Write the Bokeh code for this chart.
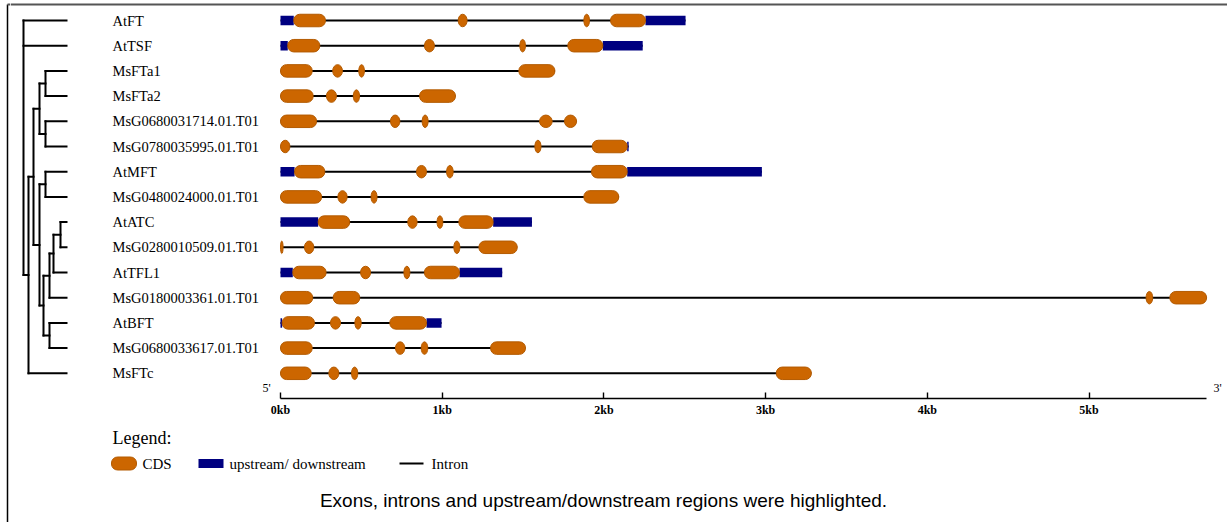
from bokeh.plotting import figure
from bokeh.models import Range1d, FixedTicker
from bokeh.layouts import column, row
from bokeh.core.properties import value
from bokeh.embed import file_html
from bokeh.resources import INLINE

# ---------------- data ----------------
genes = ["AtFT", "AtTSF", "MsFTa1", "MsFTa2", "MsG0680031714.01.T01",
         "MsG0780035995.01.T01", "AtMFT", "MsG0480024000.01.T01", "AtATC",
         "MsG0280010509.01.T01", "AtTFL1", "MsG0180003361.01.T01", "AtBFT",
         "MsG0680033617.01.T01", "MsFTc"]

# CDS exons (bp start, bp end) per gene
cds_regions = [
    [(82, 278), (1099, 1154), (1876, 1911), (2041, 2257)],
    [(45, 243), (890, 952), (1480, 1515), (1777, 1993)],
    [(0, 196), (323, 383), (484, 519), (1474, 1697)],
    [(0, 202), (284, 346), (450, 489), (860, 1082)],
    [(0, 223), (680, 738), (876, 913), (1602, 1680), (1756, 1831)],
    [(0, 58), (1573, 1611), (1928, 2144)],
    [(87, 274), (841, 903), (1027, 1068), (1923, 2144)],
    [(0, 254), (355, 412), (560, 597), (1876, 2092)],
    [(233, 428), (787, 845), (968, 1004), (1103, 1315)],
    [(0, 16), (148, 206), (1072, 1109), (1227, 1464)],
    [(76, 282), (495, 557), (763, 800), (890, 1107)],
    [(0, 199), (326, 490), (5353, 5394), (5500, 5727)],
    [(10, 210), (309, 371), (460, 499), (676, 903)],
    [(0, 196), (711, 769), (870, 911), (1299, 1515)],
    [(0, 190), (299, 361), (439, 478), (3066, 3283)],
]
# upstream / downstream regions per gene
utr_regions = [
    [(0, 82), (2257, 2505)],
    [(0, 45), (1993, 2240)],
    [], [], [],
    [(2144, 2153)],
    [(0, 87), (2144, 2977)],
    [],
    [(0, 233), (1315, 1555)],
    [],
    [(0, 76), (1107, 1371)],
    [],
    [(0, 10), (903, 996)],
    [], [],
]

tick_values = [0, 1000, 2000, 3000, 4000, 5000]
tick_labels = ["0kb", "1kb", "2kb", "3kb", "4kb", "5kb"]

# dendrogram topology (name, branch depth, children)
tree = ("root", 23, ["AtFT", "AtTSF",
        ("n1", 28, [
            ("n2", 33, [
                ("n3", 39, [("A", 45, ["MsFTa1", "MsFTa2"]),
                            ("B", 45, ["MsG0680031714.01.T01", "MsG0780035995.01.T01"])]),
                ("n4", 39, [("C", 45, ["AtMFT", "MsG0480024000.01.T01"]),
                            ("n5", 43, [
                                ("D", 49, [("D1", 53, [("D2", 60, ["AtATC", "MsG0280010509.01.T01"]),
                                                       "AtTFL1"]),
                                           "MsG0180003361.01.T01"]),
                                ("E", 49, ["AtBFT", "MsG0680033617.01.T01"])])])]),
            "MsFTc"])])
leaf_depth = 66

# ---------------- layout helpers ----------------
PX0 = 280.0          # pixel of 0 bp
PX_PER_BP = 0.1617   # pixels per bp
ROW0 = 20.0          # pixel of first row
ROW_H = 25.2         # pixels per row
STRIP = 10           # width of the left border strip
W, H = 1227, 522


def bx(px):
    return (px - PX0) / PX_PER_BP


def ry(py):
    return (py - ROW0) / ROW_H


ORANGE = "#CC6600"
ORANGE_EDGE = "#B35A00"
NAVY = "#000080"
SERIF = "Liberation Serif"

# ---------------- left border strip ----------------
s = figure(width=STRIP, height=H, output_backend="svg", toolbar_location=None,
           x_range=Range1d(0, STRIP), y_range=Range1d(H, 0),
           x_axis_location=None, y_axis_location=None,
           min_border_left=0, min_border_right=0, min_border_top=0, min_border_bottom=0)
s.outline_line_color = None
s.grid.visible = False
s.segment(x0=[7], y0=[4], x1=[7], y1=[H], line_color="black", line_width=1.5)
s.segment(x0=[7], y0=[4], x1=[STRIP], y1=[4], line_color="#555555", line_width=2)

# ---------------- top: tree, genes, axis ----------------
TOP_H = 425
p = figure(width=W - STRIP, height=TOP_H, output_backend="svg", toolbar_location=None,
           x_range=Range1d(bx(STRIP), bx(W)), y_range=Range1d(ry(398), ry(0)),
           y_axis_location=None, min_border_left=0, min_border_right=0,
           min_border_top=0, min_border_bottom=TOP_H - 398)
p.outline_line_color = None
p.grid.visible = False

p.segment(x0=[bx(STRIP)], y0=[ry(4)], x1=[bx(W)], y1=[ry(4)], line_color="#555555", line_width=2)

# axis
ax = p.xaxis[0]
gene_max = max(e for regs in cds_regions + utr_regions for _, e in regs)
ax.bounds = (0, gene_max)
ax.ticker = FixedTicker(ticks=tick_values)
ax.minor_tick_line_color = None
ax.major_label_overrides = {v: l for v, l in zip(tick_values, tick_labels)}
ax.major_tick_in = 6
ax.major_tick_out = 0
ax.axis_line_width = 1.6
ax.axis_line_color = "black"
ax.major_tick_line_color = "black"
ax.major_tick_line_width = 1.4
ax.major_label_text_font = SERIF
ax.major_label_text_font_size = "12px"
ax.major_label_text_font_style = "bold"
ax.major_label_text_color = "black"
ax.major_label_standoff = 4

rows = list(range(len(genes)))
row_of = {g: i for i, g in enumerate(genes)}

# introns (backbone line)
i_x0, i_x1, i_y = [], [], []
for i in rows:
    feats = cds_regions[i] + utr_regions[i]
    i_x0.append(min(a for a, _ in feats))
    i_x1.append(max(b for _, b in feats))
    i_y.append(i)
p.segment(x0=i_x0, y0=i_y, x1=i_x1, y1=i_y, line_color="black", line_width=2)

# upstream/downstream
u_l, u_r, u_y = [], [], []
for i in rows:
    for a, b in utr_regions[i]:
        u_l.append(a); u_r.append(b); u_y.append(i)
p.hbar(y=u_y, left=u_l, right=u_r, height=9.5 / ROW_H, fill_color=NAVY, line_color=None)

# CDS
w_l, w_r, w_y = [], [], []
n_x, n_w, n_y = [], [], []
for i in rows:
    for a, b in cds_regions[i]:
        if (b - a) * PX_PER_BP >= 14:
            w_l.append(a); w_r.append(b); w_y.append(i)
        else:
            n_x.append((a + b) / 2); n_w.append(b - a); n_y.append(i)
p.hbar(y=w_y, left=w_l, right=w_r, height=12.5 / ROW_H, fill_color=ORANGE,
       line_color=ORANGE_EDGE, line_width=1, border_radius=6)
p.ellipse(x=n_x, y=n_y, width=n_w, height=12.5 / ROW_H, fill_color=ORANGE,
          line_color=ORANGE_EDGE, line_width=1)

# gene names
p.text(x=[bx(112)] * len(genes), y=rows, text=genes, text_font=value(SERIF),
       text_font_size=value("14.5px"), text_baseline="middle", text_align="left",
       text_color="black")

# 5' / 3'
p.text(x=[bx(266), bx(1217)], y=[ry(387), ry(387)], text=["5'", "3'"],
       text_font=value(SERIF), text_font_size=value("12px"), text_baseline="middle",
       text_align="center", text_color="black")

# dendrogram
t_x0, t_y0, t_x1, t_y1 = [], [], [], []


def walk(node):
    if isinstance(node, str):
        return row_of[node], leaf_depth
    _, depth, children = node
    ys = []
    for ch in children:
        cy, cdepth = walk(ch)
        t_x0.append(bx(depth)); t_y0.append(cy); t_x1.append(bx(cdepth)); t_y1.append(cy)
        ys.append(cy)
    t_x0.append(bx(depth)); t_y0.append(min(ys)); t_x1.append(bx(depth)); t_y1.append(max(ys))
    return (min(ys) + max(ys)) / 2, depth


walk(tree)
p.segment(x0=t_x0, y0=t_y0, x1=t_x1, y1=t_y1, line_color="black", line_width=2,
          line_cap="square")

# ---------------- bottom: legend + caption ----------------
BOT_H = H - TOP_H
q = figure(width=W - STRIP, height=BOT_H, output_backend="svg", toolbar_location=None,
           x_range=Range1d(STRIP, W), y_range=Range1d(BOT_H, 0),
           x_axis_location=None, y_axis_location=None,
           min_border_left=0, min_border_right=0, min_border_top=0, min_border_bottom=0)
q.outline_line_color = None
q.grid.visible = False

legend_title = "Legend:"
legend_labels = ["CDS", "upstream/ downstream", "Intron"]
LY = 463 - TOP_H
q.text(x=[112], y=[437 - TOP_H], text=[legend_title], text_font=value(SERIF),
       text_font_size=value("18px"), text_baseline="middle", text_color="black")
q.hbar(y=[LY], left=[111], right=[136], height=13, fill_color=ORANGE,
       line_color=ORANGE_EDGE, border_radius=6)
q.hbar(y=[LY], left=[198], right=[223], height=9, fill_color=NAVY, line_color=None)
q.segment(x0=[399], y0=[LY], x1=[423], y1=[LY], line_color="black", line_width=2)
q.text(x=[142, 229, 431], y=[LY] * 3, text=legend_labels, text_font=value(SERIF),
       text_font_size=value("15px"), text_baseline="middle", text_color="black")

caption = "Exons, introns and upstream/downstream regions were highlighted."
q.text(x=[603], y=[500 - TOP_H], text=[caption], text_font=value("Liberation Sans"),
       text_font_size=value("19px"), text_baseline="middle", text_align="center",
       text_color="black")

layout = row(s, column(p, q, spacing=0), spacing=0)
open("out.html", "w").write(file_html(layout, INLINE))
